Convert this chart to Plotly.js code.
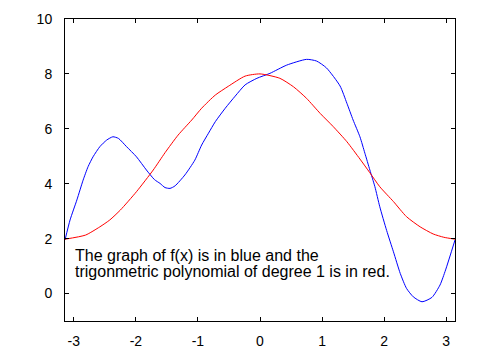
<!DOCTYPE html>
<html>
<head>
<meta charset="utf-8">
<script src="https://cdn.plot.ly/plotly-3.0.1.min.js"></script>
<style>html,body{margin:0;padding:0;background:#fff;}#chart{width:480px;height:360px;}</style>
</head>
<body>
<div id="chart"></div>
<script>
const blueX = [-3.1416,-3.06,-2.95,-2.85,-2.77,-2.69,-2.58,-2.47,-2.37,-2.28,-2.15,-1.99,-1.83,-1.70,-1.61,-1.53,-1.45,-1.37,-1.21,-1.05,-0.94,-0.83,-0.72,-0.56,-0.40,-0.24,-0.05,0.16,0.43,0.75,0.91,1.07,1.29,1.40,1.50,1.61,1.69,1.77,1.85,1.93,2.04,2.15,2.26,2.36,2.47,2.61,2.77,2.90,2.99,3.1416];
const blueY = [1.95,2.68,3.41,4.13,4.62,4.98,5.35,5.59,5.71,5.65,5.35,4.98,4.50,4.15,4.01,3.86,3.83,3.92,4.32,4.86,5.41,5.84,6.26,6.75,7.19,7.60,7.84,8.02,8.32,8.53,8.47,8.22,7.56,6.93,6.32,5.71,5.11,4.50,3.90,3.16,2.30,1.52,0.73,0.19,-0.12,-0.30,-0.14,0.31,0.86,1.95];
const redX = [-3.1416,-2.81,-2.58,-2.42,-2.25,-1.99,-1.72,-1.53,-1.32,-1.10,-0.94,-0.72,-0.51,-0.24,0,0.32,0.54,0.75,0.97,1.18,1.40,1.61,1.77,1.93,2.15,2.36,2.58,2.79,2.96,3.1416];
const redY = [1.98,2.13,2.43,2.68,3.04,3.71,4.50,5.13,5.77,6.32,6.75,7.23,7.55,7.92,8.00,7.84,7.53,7.11,6.56,6.08,5.53,4.90,4.40,3.89,3.35,2.80,2.43,2.17,2.05,1.98];
const xTicks = [-3,-2,-1,0,1,2,3];
const yTicks = [0,2,4,6,8,10];
const noteLines = ["The graph of f(x) is in blue and the","trigonmetric polynomial of degree 1 is in red."];

const font = {family: "Liberation Sans, Arial, sans-serif", size: 14, color: "#000"};
const axisCommon = {
  showline: true, linecolor: "#000", linewidth: 1, mirror: "ticks",
  ticks: "inside", ticklen: 4, tickcolor: "#000", tickwidth: 1,
  showgrid: false, zeroline: false, tickfont: font
};
const data = [
  {x: blueX, y: blueY, mode: "lines", line: {color: "#0000ff", width: 1, shape: "spline", smoothing: 0.6}, hoverinfo: "skip"},
  {x: redX, y: redY, mode: "lines", line: {color: "#ff0000", width: 1, shape: "spline", smoothing: 0.6}, hoverinfo: "skip"}
];
const layout = {
  width: 480, height: 360,
  margin: {l: 65, r: 25, t: 19, b: 39, pad: 0},
  paper_bgcolor: "#fff", plot_bgcolor: "#fff",
  showlegend: false,
  xaxis: Object.assign({}, axisCommon, {range: [-Math.PI, Math.PI], tickvals: xTicks, ticktext: xTicks.map(String), ticklabelstandoff: 7}),
  yaxis: Object.assign({}, axisCommon, {range: [-1, 10], tickvals: yTicks, ticktext: yTicks.map(String), ticklabelstandoff: 9}),
  annotations: noteLines.map((t, i) => ({
    text: t, xref: "paper", yref: "paper", x: 0.021, y: [0.2185, 0.1655][i],
    xanchor: "left", yanchor: "middle", showarrow: false, align: "left",
    font: {family: "Liberation Sans, Arial, sans-serif", size: 16, color: "#000"}
  }))
};
Plotly.newPlot("chart", data, layout, {staticPlot: true, displayModeBar: false});
</script>
</body>
</html>
